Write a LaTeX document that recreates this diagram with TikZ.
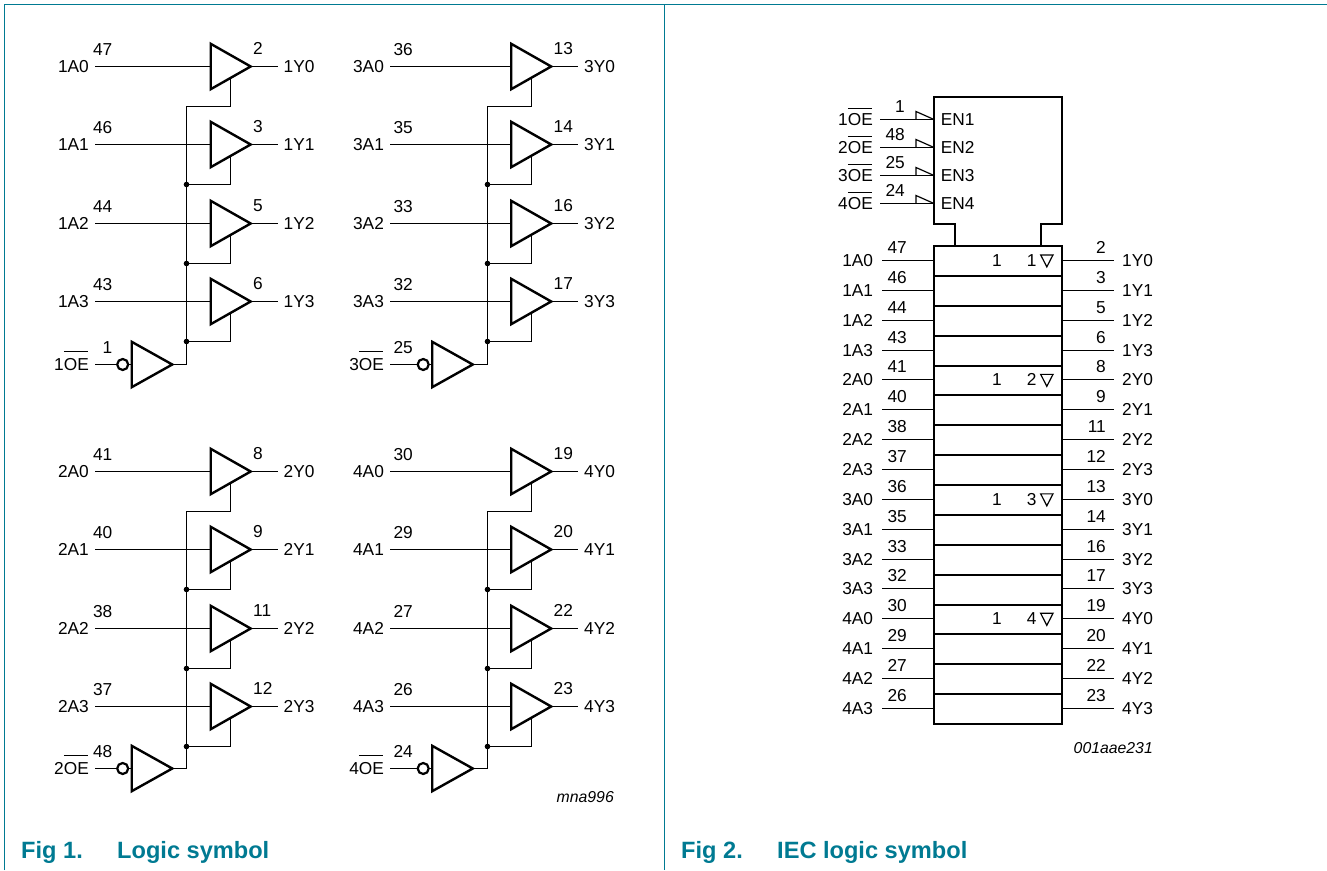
\documentclass[tikz,border=0pt]{standalone}
\usepackage{fontspec}
\setmainfont{Liberation Sans}
\definecolor{frameteal}{HTML}{007A92}
\newcommand{\oename}[2]{#1\rlap{\rule[#2]{24pt}{0.9pt}}OE}
\tikzset{
    wire/.style={line width=1.2pt},
    gate/.style={line width=2.4pt,fill=white,miter limit=10},
    box/.style={line width=2.3pt},
    frameline/.style={frameteal,line width=1.2pt},
    txt/.style={inner sep=0pt,text height=12.2pt,text depth=0pt,font=\fontsize{17.3}{20}\selectfont},
    pinlbl/.style={txt,inner xsep=6pt},
    tag/.style={inner sep=0pt,font=\fontsize{15.8}{18}\selectfont\itshape},
    caption/.style={inner sep=0pt,text=frameteal,font=\fontsize{23.6}{26}\selectfont\bfseries}
}
\begin{document}
\begin{tikzpicture}[x=1pt,y=-1pt]
    \useasboundingbox (0,0) rectangle (1327,870);

    % frame
    \coordinate (ftl) at (4.5,4.5);
    \coordinate (ftr) at (1327,4.5);
    \coordinate (fbl) at (4.5,870);
    \coordinate (fmt) at (664.5,4.5);
    \coordinate (fmb) at (664.5,870);
    \draw[frameline] (fbl) -- (ftl) -- (ftr);
    \draw[frameline] (fmt) -- (fmb);

    % IEC symbol outline
    \draw[box] (934,246) -- (934,724) -- (1062,724) -- (1062,246) -- cycle;
    \draw[box] (955,246) -- (955,224) -- (934,224) -- (934,96.7) -- (1062,96.7) -- (1062,224) -- (1040.7,224) -- (1040.7,246);
    \foreach \k in {1,...,15} {
        \pgfmathsetmacro{\liney}{round(246+29.875*\k)}
        \coordinate (rl\k) at (934,\liney);
        \coordinate (rr\k) at (1062,\liney);
        \draw[box,line width=2pt] (rl\k) -- (rr\k);
    }

    \foreach \dx/\dy/\enpin/\pinlist [count=\g] in {
        0/0/1/{47/2,46/3,44/5,43/6},
        0/405/48/{41/8,40/9,38/11,37/12},
        300.5/0/25/{36/13,35/14,33/16,32/17},
        300.5/405/24/{30/19,29/20,27/22,26/23}} {

        \pgfmathsetmacro{\lx}{95+0.982*\dx}
        \pgfmathsetmacro{\vx}{ceil(\dx)}

        % inverter
        \pgfmathsetmacro{\invy}{364.5+\dy-\dy/405}
        \coordinate (ii\g) at (131.7+\dx,\invy);
        \coordinate (it\g) at (172.3+\dx,\invy);
        \coordinate (bt\g) at (186.5+\vx,105.5+\dy);
        \node[pinlbl,anchor=east] (oel\g) at (\lx,\invy) {\oename{\g}{18.8pt}};
        \node[txt,anchor=east] (oen\g) at (112.5+\dx,\invy-16.7) {\enpin};
        \node[circle,draw,line width=2.2pt,inner sep=0pt,minimum size=11pt] (bub\g) at (122.7+\dx,\invy) {};
        \draw[wire] (oel\g.east) -- (bub\g.west);
        \draw[wire] (bub\g.east) -- (ii\g);
        \draw[gate] (ii\g) -- ++(0,-22.7) -- (it\g) -- ++(-40.6,22.7) -- cycle;
        \draw[wire] (it\g) -| (bt\g);

        % buffers
        \foreach \pa/\py [count=\n from 0] in \pinlist {
            \pgfmathsetmacro{\rowy}{floor(66+78.5*\n)+0.5+\dy}
            \coordinate (gi\g\n) at (210.7+\dx,\rowy);
            \coordinate (go\g\n) at (250.7+\dx,\rowy);
            \coordinate (ge\g\n) at (230.5+\vx,\rowy+11.3);
            \coordinate (gj\g\n) at (186.5+\vx,\rowy+40);
            \node[pinlbl,anchor=east] (al\g\n) at (\lx,\rowy) {\g{}A\n};
            \node[pinlbl,anchor=west] (yl\g\n) at (277.5+\dx,\rowy) {\g{}Y\n};
            \node[txt,anchor=east] (an\g\n) at (112.5+\dx,\rowy-17) {\pa};
            \node[txt,anchor=west] (yn\g\n) at (253+\dx,\rowy-18) {\py};
            \draw[wire] (al\g\n.east) -- (gi\g\n);
            \draw[wire] (go\g\n) -- (yl\g\n.west);
            \draw[gate] (gi\g\n) -- ++(0,-22.7) -- (go\g\n) -- ++(-40,22.7) -- cycle;
            \draw[wire] (ge\g\n) |- (gj\g\n);
            \ifnum\n>0
                \fill (gj\g\n) circle (2.8);
            \fi

            % same pins in the IEC symbol
            \pgfmathtruncatemacro{\rw}{(\g-1)*4+\n}
            \pgfmathsetmacro{\tby}{floor(260.4+29.87*\rw)+0.5}
            \coordinate (tl\rw) at (934,\tby);
            \coordinate (tr\rw) at (1062,\tby);
            \node[pinlbl,inner xsep=9pt,anchor=east] (ta\rw) at (882.3,\tby) {\g{}A\n};
            \node[pinlbl,inner xsep=8pt,anchor=west] (ty\rw) at (1114,\tby) {\g{}Y\n};
            \node[txt,anchor=east] (tan\rw) at (907,\tby-13) {\pa};
            \node[txt,anchor=east] (tyn\rw) at (1106,\tby-13) {\py};
            \draw[wire] (ta\rw.east) -- (tl\rw);
            \draw[wire] (tr\rw) -- (ty\rw.west);
        }

        % enable pins and group marks of the IEC symbol
        \pgfmathsetmacro{\eny}{floor(119.6+27.9*(\g-1))+0.5}
        \coordinate (ee\g) at (934,\eny);
        \coordinate (ew\g) at (916,\eny);
        \node[pinlbl,inner xsep=7pt,anchor=east] (el\g) at (880,\eny) {\oename{\g}{16.8pt}};
        \node[txt,anchor=east] (en\g) at (905,\eny-13) {\enpin};
        \node[txt,anchor=west] (et\g) at (940.7,\eny) {EN\g};
        \draw[wire] (el\g.east) -- (ee\g);
        \draw[wire] (ew\g) -- ++(0,-8) -- (ee\g);

        \pgfmathsetmacro{\gry}{260.4+29.87*4*(\g-1)}
        \node[txt] (gm\g) at (997,\gry) {1};
        \node[txt] (gn\g) at (1031.7,\gry) {\g};
        \draw[wire] (1040.7,\gry-5.5) -- (1053,\gry-5.5) -- (1046.8,\gry+6.5) -- cycle;
    }

    \node[tag,anchor=east] (tag1) at (614,797) {mna996};
    \node[tag,anchor=east] (tag2) at (1153,748.5) {001aae231};
    \node[caption,anchor=base west] (fig1) at (21,858) {Fig 1.};
    \node[caption,anchor=base west] (cap1) at (117,858) {Logic symbol};
    \node[caption,anchor=base west] (fig2) at (681,858) {Fig 2.};
    \node[caption,anchor=base west] (cap2) at (777,858) {IEC logic symbol};
\end{tikzpicture}
\end{document}
